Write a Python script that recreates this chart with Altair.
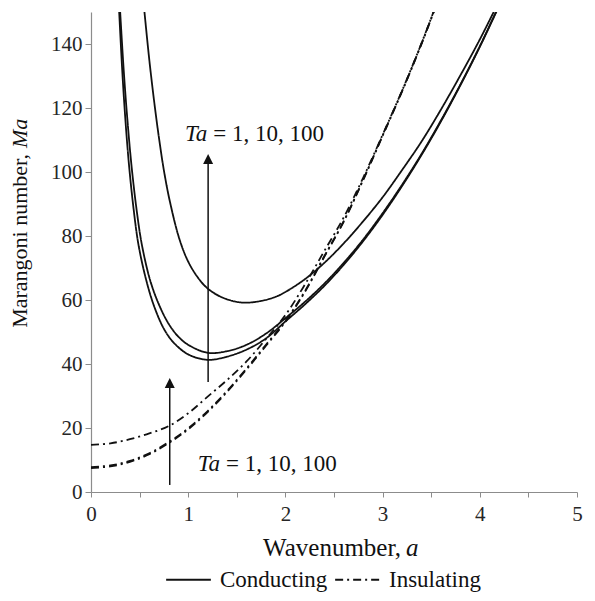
import altair as alt
import pandas as pd

FONT = "Liberation Serif"
INK = "#111111"

# ---- Conducting curves (solid) ----
cond_ta1_a = [0.29, 0.32, 0.35, 0.39, 0.44, 0.49, 0.57, 0.65, 0.75, 0.85, 1.0, 1.2, 1.4, 1.6, 1.8,
              2.0, 2.2, 2.4, 2.6, 2.8, 3.0, 3.2, 3.4, 3.6, 3.8, 4.0, 4.2]
cond_ta1_ma = [150, 132.5, 118, 102.5, 88, 77, 66, 58, 51, 46.7, 43, 41.3, 42.3, 44.5, 48,
               53.3, 58.6, 64.4, 71, 78.4, 86.6, 95.6, 105.3, 115.8, 127.1, 139.1, 152]

cond_ta10_a = [0.30, 0.335, 0.37, 0.415, 0.47, 0.525, 0.61, 0.70, 0.80, 0.90, 1.0, 1.2, 1.4, 1.6, 1.8,
               2.0, 2.2, 2.4, 2.6, 2.8, 3.0, 3.2, 3.4, 3.6, 3.8, 4.0, 4.2]
cond_ta10_ma = [150, 132.5, 118, 102.5, 88, 77, 66, 58.5, 52.5, 48.5, 46, 43.5, 44, 46, 49.5,
                54.3, 59.4, 65.1, 71.6, 78.9, 87.1, 96, 105.6, 116.1, 127.3, 139.3, 152.2]

cond_ta100_a = [0.55, 0.60, 0.65, 0.70, 0.75, 0.81, 0.91, 1.0, 1.1, 1.2, 1.35, 1.55, 1.75, 1.9,
                2.0, 2.2, 2.4, 2.6, 2.8, 3.0, 3.2, 3.4, 3.6, 3.8, 4.0, 4.2]
cond_ta100_ma = [150, 135, 122, 110.5, 100.5, 91, 79, 72, 67, 63.6, 60.8, 59.2, 59.7, 61,
                 62.5, 66.5, 71.6, 77.7, 84.6, 92.1, 100.6, 109.5, 119.5, 130.2, 141.4, 153.5]

# ---- Insulating curves (dash-dot) ----
ins_a = [0, 0.2, 0.4, 0.6, 0.8, 1.0, 1.2, 1.4, 1.6, 1.8, 2.0, 2.2, 2.4, 2.6, 2.8, 3.0, 3.2, 3.4, 3.6]
ins_ta1_ma = [7.5, 8.0, 9.4, 11.8, 15.3, 19.6, 25.0, 31.3, 38.3, 45.7, 53.2, 62.5, 73.5, 84.5, 97.5,
              111.3, 125.2, 140, 156]
ins_ta10_ma = [7.8, 8.3, 9.7, 12.1, 15.6, 19.9, 25.3, 31.6, 38.6, 46.0, 53.5, 62.7, 73.7, 84.6, 97.6,
               111.4, 125.3, 140.1, 156.1]
ins_ta100_ma = [14.7, 15.2, 16.5, 18.3, 20.6, 24.6, 29.8, 35.0, 40.8, 47.8, 55.3, 64.8, 75.3, 85.8,
                98.2, 111.6, 125.4, 140.2, 156.2]

series = [
    ("cond_1", "Conducting", cond_ta1_a, cond_ta1_ma),
    ("cond_10", "Conducting", cond_ta10_a, cond_ta10_ma),
    ("cond_100", "Conducting", cond_ta100_a, cond_ta100_ma),
    ("ins_1", "Insulating", ins_a, ins_ta1_ma),
    ("ins_10", "Insulating", ins_a, ins_ta10_ma),
    ("ins_100", "Insulating", ins_a, ins_ta100_ma),
]
rows = []
for name, typ, xs, ys in series:
    for x, y in zip(xs, ys):
        rows.append({"series": name, "type": typ, "a": x, "Ma": y})
df = pd.DataFrame(rows)

# ---- Arrows ----
arrow_a = [1.205, 0.81]
arrow_from = [34.4, 2.2]
arrow_to = [103.0, 33.0]
arrow_tip = [105.6, 35.6]
arrows = pd.DataFrame({"a": arrow_a, "y0": arrow_from, "y1": arrow_to, "tip": arrow_tip})

# ---- Annotations ----
ann_text = ["Ta", "= 1, 10, 100", "Ta", "= 1, 10, 100"]
ann_a = [0.967, 1.259, 1.098, 1.39]
ann_ma = [109.7, 109.7, 6.56, 6.56]
ann_style = ["italic", "normal", "italic", "normal"]
ann = pd.DataFrame({"t": ann_text, "a": ann_a, "Ma": ann_ma, "s": ann_style})

x_ticks = [0, 0.5, 1, 1.5, 2, 2.5, 3, 3.5, 4, 4.5, 5]
y_ticks = [0, 20, 40, 60, 80, 100, 120, 140]

xscale = alt.Scale(domain=[0, 5], nice=False)
yscale = alt.Scale(domain=[0, 150], nice=False)

axis_common = dict(grid=False, title=None, labelFont=FONT, labelFontSize=21, labelColor="#262626",
                   domainColor="#8c8c8c", tickColor="#8c8c8c", domainWidth=1.2, tickWidth=1,
                   labelFlush=False, labelOverlap=False)

lines = alt.Chart(df).mark_line(interpolate="catmull-rom", clip=True, strokeWidth=1.8, color=INK).encode(
    x=alt.X("a:Q", scale=xscale,
            axis=alt.Axis(values=x_ticks,
                          labelExpr="datum.value % 1 == 0 ? format(datum.value, 'd') : ''",
                          tickSize=5, labelPadding=6, **axis_common)),
    y=alt.Y("Ma:Q", scale=yscale,
            axis=alt.Axis(values=y_ticks, format="d", tickSize=6, labelPadding=3, **axis_common)),
    strokeDash=alt.StrokeDash(
        "type:N",
        scale=alt.Scale(domain=["Conducting", "Insulating"], range=[[1, 0], [8, 4, 2, 4]]),
        legend=alt.Legend(orient="none", legendX=74, legendY=544, direction="horizontal",
                          title=None, symbolType="stroke", symbolSize=2000,
                          symbolStrokeWidth=2, symbolStrokeColor=INK,
                          labelFont=FONT, labelFontSize=23, labelColor=INK,
                          labelOffset=8, columnPadding=3)),
    detail="series:N",
)

shafts = alt.Chart(arrows).mark_rule(strokeWidth=1.5, color=INK).encode(
    x="a:Q", y="y0:Q", y2="y1:Q")
heads = alt.Chart(arrows).mark_point(shape="M0,-1L1,1L-1,1Z", filled=True, size=100,
                                     color=INK, opacity=1, strokeWidth=0, yOffset=5).encode(
    x="a:Q", y="tip:Q")

ann_it = alt.Chart(ann[ann.s == "italic"]).mark_text(
    font=FONT, fontSize=23, fontStyle="italic", align="left", baseline="alphabetic", color=INK
).encode(x="a:Q", y="Ma:Q", text="t:N")
ann_rg = alt.Chart(ann[ann.s == "normal"]).mark_text(
    font=FONT, fontSize=23, align="left", baseline="alphabetic", color=INK
).encode(x="a:Q", y="Ma:Q", text="t:N")

# axis titles with italic variable names
xt1 = alt.Chart(pd.DataFrame({"t": ["Wavenumber,"]})).mark_text(
    font=FONT, fontSize=25, align="right", baseline="alphabetic", color=INK
).encode(x=alt.value(310), y=alt.value(544), text="t:N")
xt2 = alt.Chart(pd.DataFrame({"t": ["a"]})).mark_text(
    font=FONT, fontSize=25, fontStyle="italic", align="left", baseline="alphabetic", color=INK
).encode(x=alt.value(315), y=alt.value(544), text="t:N")
yt1 = alt.Chart(pd.DataFrame({"t": ["Marangoni number,"]})).mark_text(
    font=FONT, fontSize=22, align="right", baseline="alphabetic", angle=270, color=INK
).encode(x=alt.value(-64), y=alt.value(142), text="t:N")
yt2 = alt.Chart(pd.DataFrame({"t": ["Ma"]})).mark_text(
    font=FONT, fontSize=22, fontStyle="italic", align="left", baseline="alphabetic", angle=270, color=INK
).encode(x=alt.value(-64), y=alt.value(136), text="t:N")

chart = alt.layer(lines, shafts, heads, ann_it, ann_rg, xt1, xt2, yt1, yt2).properties(
    width=486, height=480,
    autosize=alt.AutoSizeParams(type="none"),
    padding={"left": 83, "top": 4, "right": 7, "bottom": 101},
).configure_view(stroke=None)

chart.save("out.html", embed_options={"renderer": "svg", "actions": False})
